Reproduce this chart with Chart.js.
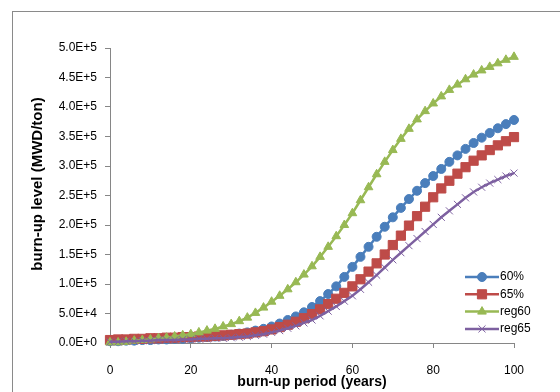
<!DOCTYPE html>
<html><head><meta charset="utf-8">
<script src="https://cdn.jsdelivr.net/npm/chart.js@4.4.0/dist/chart.umd.min.js"></script>
<style>
html,body{margin:0;padding:0;background:#fff;overflow:hidden}
#wrap{position:relative;width:560px;height:392px;overflow:hidden}
#frame{position:absolute;left:12px;top:11px;width:620px;height:440px;border:1px solid #8a8a8a;box-sizing:border-box}
canvas{position:absolute;left:0;top:0}
</style></head><body>
<div id="wrap"><div id="frame"></div><canvas id="c" width="560" height="392"></canvas></div>
<script>
const years = [0,2,4,6,8,10,12,14,16,18,20,22,24,26,28,30,32,34,36,38,40,42,44,46,48,50,52,54,56,58,60,62,64,66,68,70,72,74,76,78,80,82,84,86,88,90,92,94,96,98,100];
const seriesNames = ['60%','65%','reg60','reg65'];
const burn60 = [3000,3000,4000,4000,5000,5000,6000,6000,7000,7000,8000,9000,10000,11000,12000,14000,16000,18000,21000,24000,28000,33000,39000,45000,52000,61000,71000,83000,96000,112000,129000,146000,163000,180000,197000,213000,229000,244000,258000,271000,283000,295000,307000,318000,329000,339000,348000,356000,364000,371000,378000];
const burn65 = [5000,6000,6000,7000,7000,8000,8000,9000,9000,10000,10000,11000,11000,12000,13000,14000,15000,16000,18000,20000,23000,27000,31000,36000,42000,49000,57000,66000,75000,85000,96000,108000,121000,135000,150000,166000,182000,199000,215000,231000,247000,262000,275000,287000,298000,309000,318000,327000,335000,342000,349000];
const reg60 = [1000,1000,2000,4000,5000,6000,8000,9000,11000,13000,15000,18000,21000,24000,28000,32000,37000,43000,51000,60000,70000,80000,91000,103000,116000,130000,146000,163000,181000,200000,220000,242000,264000,286000,307000,327000,346000,363000,379000,393000,406000,418000,429000,438000,447000,455000,462000,468000,474000,480000,485000];
const reg65 = [2000,2000,3000,3000,4000,4000,5000,5000,5000,6000,6000,7000,7000,8000,8000,9000,10000,11000,13000,15000,18000,21000,25000,29000,34000,39000,46000,54000,62000,71000,80000,91000,103000,115000,128000,141000,153000,165000,177000,189000,201000,213000,224000,235000,246000,256000,264000,271000,277000,283000,288000];
const yTicks = [0,50000,100000,150000,200000,250000,300000,350000,400000,450000,500000];
const xTicks = [0,20,40,60,80,100];
const xTitle = 'burn-up period (years)';
const yTitle = 'burn-up level (MWD/ton)';

const FONT = '"Liberation Sans", Arial, sans-serif';
Chart.defaults.font.family = FONT;
Chart.defaults.font.size = 12;
Chart.defaults.color = '#000';

function pts(arr){ return years.map((t,i)=>({x:t,y:arr[i]})); }
const styles = [
  {color:'#4A7EBB', pointStyle:'circle', pointRadius:4.5, pointBorderWidth:1},
  {color:'#BE4B48', pointStyle:'rect', pointRadius:6.5, pointBorderWidth:1},
  {color:'#98B954', pointStyle:'triangle', pointRadius:5, pointBorderWidth:1},
  {color:'#7D60A0', pointStyle:'crossRot', pointRadius:5, pointBorderWidth:1}
];
const allData = [burn60, burn65, reg60, reg65];
const datasets = allData.map((arr,i)=>({
  label: seriesNames[i],
  data: pts(arr),
  borderColor: styles[i].color,
  backgroundColor: styles[i].color,
  pointBackgroundColor: styles[i].color,
  pointBorderColor: styles[i].color,
  pointStyle: styles[i].pointStyle,
  pointRadius: styles[i].pointRadius,
  pointBorderWidth: styles[i].pointBorderWidth,
  borderWidth: 2.5,
  tension: 0,
  clip: false,
  order: 4 - i
}));

const overlay = {
  id: 'overlay',
  afterDraw(chart){
    const ctx = chart.ctx;
    ctx.save();
    ctx.fillStyle = '#000';
    ctx.font = 'bold 15px ' + FONT;
    ctx.textAlign = 'center';
    ctx.textBaseline = 'middle';
    ctx.translate(38, 184);
    ctx.rotate(-Math.PI/2);
    ctx.fillText(yTitle, 0, 0);
    ctx.restore();

    ctx.save();
    ctx.fillStyle = '#000';
    ctx.font = 'bold 14px ' + FONT;
    ctx.textAlign = 'center';
    ctx.textBaseline = 'middle';
    ctx.fillText(xTitle, (chart.chartArea.left + chart.chartArea.right)/2, 382);
    ctx.restore();

    chart.data.datasets.forEach((ds, i) => {
      const y = 277 + i * 17.3;
      ctx.save();
      ctx.strokeStyle = ds.borderColor;
      ctx.lineWidth = ds.borderWidth;
      ctx.beginPath(); ctx.moveTo(465, y); ctx.lineTo(499, y); ctx.stroke();
      ctx.fillStyle = ds.pointBackgroundColor;
      ctx.strokeStyle = ds.pointBorderColor;
      ctx.lineWidth = ds.pointBorderWidth;
      Chart.helpers.drawPoint(ctx, {pointStyle: ds.pointStyle, radius: ds.pointRadius, borderWidth: ds.pointBorderWidth, rotation: 0}, 482, y);
      ctx.fillStyle = '#000';
      ctx.font = '12px ' + FONT;
      ctx.textAlign = 'left';
      ctx.textBaseline = 'middle';
      ctx.fillText(ds.label, 500, y);
      ctx.restore();
    });
  }
};

new Chart(document.getElementById('c'), {
  type: 'line',
  data: { datasets },
  options: {
    responsive: false,
    animation: false,
    events: [],
    layout: { padding: { top: 48, right: 46, left: 0, bottom: 0 } },
    plugins: { legend: { display: false }, tooltip: { enabled: false } },
    scales: {
      x: {
        type: 'linear', min: 0, max: 100,
        afterFit(s){ s.height = 49; },
        afterBuildTicks(s){ s.ticks = xTicks.map(v=>({value:v})); },
        ticks: { padding: 15, font: { size: 12 }, color: '#000' },
        grid: { drawOnChartArea: false, drawTicks: true, tickLength: 5, color: '#868686' },
        border: { display: true, color: '#868686', width: 1 }
      },
      y: {
        min: 0, max: 500000,
        afterFit(s){ s.width = 110; },
        afterBuildTicks(s){ s.ticks = yTicks.map(v=>({value:v})); },
        ticks: { padding: 8, font: { size: 12 }, color: '#000',
          callback: v => Number(v).toExponential(1).toUpperCase() },
        grid: { drawOnChartArea: false, drawTicks: true, tickLength: 5, color: '#868686' },
        border: { display: true, color: '#868686', width: 1 }
      }
    }
  },
  plugins: [overlay]
});
</script>
</body></html>
